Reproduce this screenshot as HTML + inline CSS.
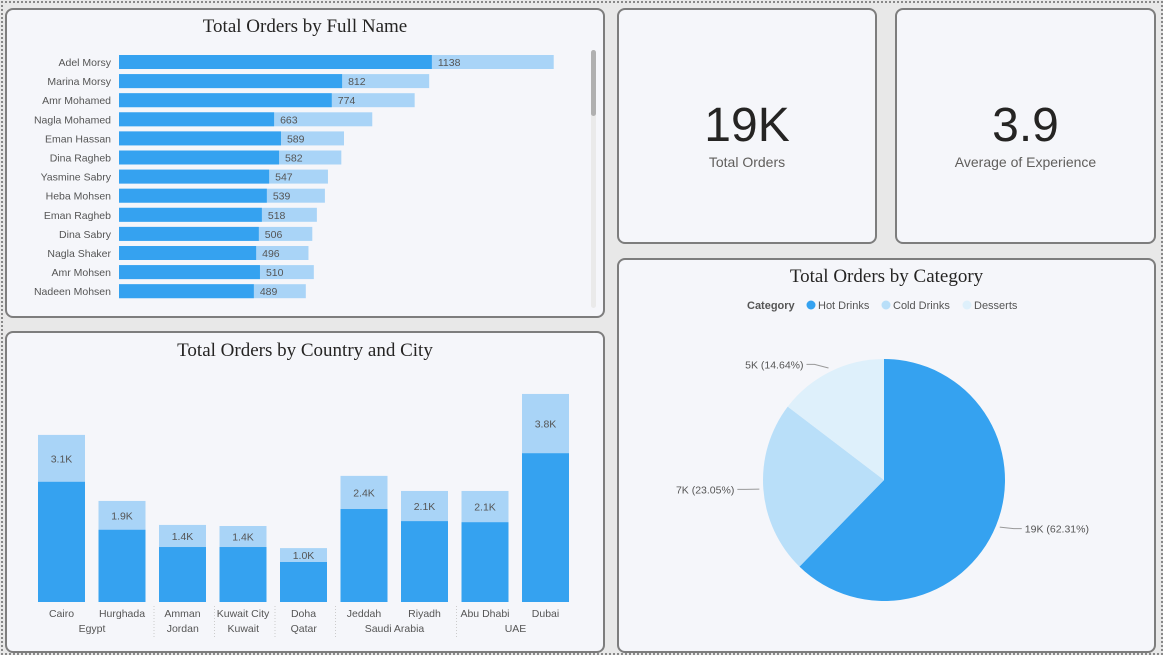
<!DOCTYPE html>
<html><head><meta charset="utf-8"><style>
body{margin:0;width:1163px;height:654px;background:#e8e8e8;font-family:"Liberation Sans",sans-serif;position:relative;overflow:hidden}
.frame{position:absolute;left:1px;top:1px;width:1158px;height:650px;border:2px dotted #888}
.panel{position:absolute;background:#f5f6fa;border:2px solid #7d7d7d;border-radius:8px;box-sizing:border-box}
.title{position:absolute;width:100%;text-align:center;font-family:"Liberation Serif",serif;font-size:19px;color:#252423}
.big{position:absolute;width:100%;text-align:center;font-size:48px;color:#252423}
.sub{position:absolute;width:100%;text-align:center;font-size:14px;color:#605e5c}
svg text{font-family:"Liberation Sans",sans-serif}
</style></head><body>
<div class="frame"></div>

<div class="panel" style="left:5px;top:8px;width:600px;height:310px">
<div class="title" style="top:6px">Total Orders by Full Name</div>
<div style="position:absolute;left:584px;top:40px;width:5px;height:258px;background:#eaeaea;border-radius:3px"></div>
<div style="position:absolute;left:584px;top:40px;width:5px;height:66px;background:#b0b0b0;border-radius:3px"></div>
</div>
<svg id="barsvg" style="position:absolute;left:0;top:0" width="610" height="320"></svg>

<div class="panel" style="left:5px;top:331px;width:600px;height:322px">
<div class="title" style="top:7px">Total Orders by Country and City</div>
</div>
<svg id="colsvg" style="position:absolute;left:0;top:0" width="610" height="654"></svg>

<div class="panel" style="left:617px;top:8px;width:260px;height:236px">
<div class="big" style="top:88px">19K</div>
<div class="sub" style="top:144px">Total Orders</div>
</div>
<div class="panel" style="left:895px;top:8px;width:261px;height:236px">
<div class="big" style="top:88px">3.9</div>
<div class="sub" style="top:144px">Average of Experience</div>
</div>

<div class="panel" style="left:617px;top:258px;width:539px;height:395px">
<div class="title" style="top:6px">Total Orders by Category</div>
</div>
<svg id="piesvg" style="position:absolute;left:0;top:0" width="1163" height="654"></svg>

<script>
const names=["Adel Morsy","Marina Morsy","Amr Mohamed","Nagla Mohamed","Eman Hassan","Dina Ragheb","Yasmine Sabry","Heba Mohsen","Eman Ragheb","Dina Sabry","Nagla Shaker","Amr Mohsen","Nadeen Mohsen"];
const nameTotals=[1138,812,774,663,589,582,547,539,518,506,496,510,489];
const nameHot=[819,584,557,406,424,419,393,387,374,366,359,369,353];

const cities=["Cairo","Hurghada","Amman","Kuwait City","Doha","Jeddah","Riyadh","Abu Dhabi","Dubai"];
const countries=["Egypt","Jordan","Kuwait","Qatar","Saudi Arabia","UAE"];
const countrySpan=[2,1,1,1,2,2];
const cityTotals=[3100,1875,1430,1410,1000,2340,2060,2060,3860];
const cityHot=[2230,1340,1020,1020,742,1725,1500,1480,2760];
const cityLabels=["3.1K","1.9K","1.4K","1.4K","1.0K","2.4K","2.1K","2.1K","3.8K"];

const catNames=["Hot  Drinks","Cold  Drinks","Desserts"];
const catValues=[62.31,23.05,14.64];
const catLabels=["19K (62.31%)","7K (23.05%)","5K (14.64%)"];

const NS="http://www.w3.org/2000/svg";
function mk(svg,tag,attrs,txt){const e=document.createElementNS(NS,tag);for(const k in attrs)e.setAttribute(k,attrs[k]);if(txt!==undefined)e.textContent=txt;svg.appendChild(e);return e;}
const DARK="#35a2f0",LIGHT="#a9d4f7";

// bar chart
(function(){
const s=document.getElementById('barsvg');
const x0=119,xs=v=>v*0.382,y0=62,step=19.1,bh=14;
names.forEach((n,i)=>{
 const cy=y0+i*step;
 let t=mk(s,'text',{x:111,y:cy+4,'text-anchor':'end','font-size':10.5,fill:'#555'},n);
 
 
 let r=mk(s,'rect',{x:x0,y:cy-bh/2,width:xs(nameTotals[i]),height:bh,fill:LIGHT});
 
 
 let d=mk(s,'rect',{x:x0,y:cy-bh/2,width:xs(nameHot[i]),height:bh,fill:DARK});
 
 
 let v=mk(s,'text',{x:x0+xs(nameHot[i])+6,y:cy+4,'font-size':10.5,fill:'#555'},nameTotals[i]);
 
 
});
})();

// column chart
(function(){
const s=document.getElementById('colsvg');
const base=602,ys=v=>v*0.0539,x0=38,step=60.5,w=47;
cities.forEach((c,i)=>{
 const x=x0+i*step;
 let r=mk(s,'rect',{x:x,y:base-ys(cityTotals[i]),width:w,height:ys(cityTotals[i]),fill:LIGHT});
 
 
 let d=mk(s,'rect',{x:x,y:base-ys(cityHot[i]),width:w,height:ys(cityHot[i]),fill:DARK});
 
 
 const ly=(base-ys(cityTotals[i])+base-ys(cityHot[i]))/2+4;
 let v=mk(s,'text',{x:x+w/2,y:ly,'text-anchor':'middle','font-size':10.5,fill:'#555'},cityLabels[i]);
 
 
 let t=mk(s,'text',{x:x+w/2,y:617,'text-anchor':'middle','font-size':10.5,fill:'#555'},c);
 
 
});
let idx=0;
countries.forEach((c,j)=>{
 const xa=x0+idx*step-5,xb=x0+(idx+countrySpan[j])*step-8;
 let t=mk(s,'text',{x:(xa+xb)/2,y:632,'text-anchor':'middle','font-size':10.5,fill:'#555'},c);
 
 
 if(j>0){let l=mk(s,'line',{x1:xa,y1:606,x2:xa,y2:637,stroke:'#ccc','stroke-dasharray':'1,2'});
 
 }
 idx+=countrySpan[j];
});
})();

// pie
(function(){
const s=document.getElementById('piesvg');
const cx=884,cy=480,R=121;
const cols=["#35a2f0","#b9dff9","#def0fb"];
// legend
let lg=mk(s,'text',{x:747,y:309,'font-size':11,'font-weight':'bold',fill:'#555'},'Category');


const lx=[811,886,967];
catNames.forEach((n,i)=>{
 let c=mk(s,'circle',{cx:lx[i],cy:305,r:4.5,fill:cols[i]});
 
 
 let t=mk(s,'text',{x:lx[i]+7,y:309,'font-size':11,fill:'#555','xml:space':'preserve'},n);
 
 
});
const tot=catValues.reduce((a,b)=>a+b,0);
let a=-Math.PI/2;
catValues.forEach((v,i)=>{
 const sw=v/tot*2*Math.PI,a2=a+sw;
 const p=`M${cx},${cy} L${cx+R*Math.cos(a)},${cy+R*Math.sin(a)} A${R},${R} 0 ${sw>Math.PI?1:0} 1 ${cx+R*Math.cos(a2)},${cy+R*Math.sin(a2)} Z`;
 let sl=mk(s,'path',{d:p,fill:cols[i]});
 
 
 const m=(a+a2)/2,ex=cx+(R+4)*Math.cos(m),ey=cy+(R+4)*Math.sin(m);
 const right=Math.cos(m)>0;
 const lx2=ex+(right?14:-14),ly2=ey+(Math.sin(m)*4);
 let ln=mk(s,'polyline',{points:`${ex},${ey} ${lx2},${ly2} ${lx2+(right?8:-8)},${ly2}`,fill:'none',stroke:'#999'});
 
 
 let t=mk(s,'text',{x:lx2+(right?11:-11),y:ly2+4,'text-anchor':right?'start':'end','font-size':10.5,fill:'#555'},catLabels[i]);
 
 
 a=a2;
});
})();
</script>
</body></html>
